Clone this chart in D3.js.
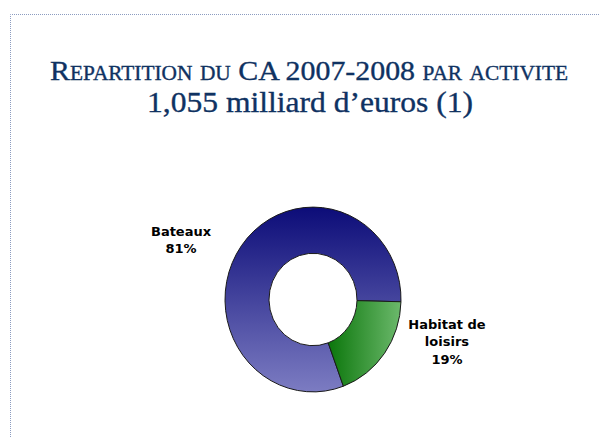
<!DOCTYPE html>
<html>
<head>
<meta charset="utf-8">
<script src="https://cdn.jsdelivr.net/npm/d3@7"></script>
<style>
  body { margin: 0; background: #fff; }
  svg { display: block; }
</style>
</head>
<body>
<div id="chart"></div>
<script>
// Turnover split by activity, 2007-2008, drawn as a donut.
const WIDTH = 600;
const HEIGHT = 437;

const titleLines = ["Repartition du CA 2007-2008 par activite", "1,055 milliard d\u2019euros (1)"];
const categories = ["Bateaux", "Habitat de loisirs"];
const labelLines = [["Bateaux"], ["Habitat de", "loisirs"]];
const shares = [81, 19];

const svg = d3.select("#chart")
    .append("svg")
    .attr("width", WIDTH)
    .attr("height", HEIGHT);

// Gradients: blue runs top to bottom, green runs left to right.
const defs = svg.append("defs");
const blue = defs.append("linearGradient")
    .attr("id", "grad-0")
    .attr("x1", 0).attr("y1", 0).attr("x2", 0).attr("y2", 1);
blue.append("stop").attr("offset", "0%").attr("stop-color", "#0c0c78");
blue.append("stop").attr("offset", "100%").attr("stop-color", "#7c7cc2");

const green = defs.append("linearGradient")
    .attr("id", "grad-1")
    .attr("x1", 0).attr("y1", 0).attr("x2", 1).attr("y2", 0);
green.append("stop").attr("offset", "0%").attr("stop-color", "#0b760b");
green.append("stop").attr("offset", "100%").attr("stop-color", "#6cb96c");

// Dotted frame of the slide placeholder.
svg.append("path")
    .attr("d", `M10.5,${HEIGHT} V14.5 H${WIDTH}`)
    .attr("fill", "none")
    .attr("stroke", "#8c9cc0")
    .attr("stroke-width", 1)
    .attr("stroke-dasharray", "1,1");

// Title block; the original face is wider and heavier than Times, so stretch it a little.
const titleFont = "'Liberation Serif', 'DejaVu Serif', serif";

svg.append("text")
    .attr("x", 309)
    .attr("y", 80)
    .attr("text-anchor", "middle")
    .attr("textLength", 518)
    .attr("lengthAdjust", "spacingAndGlyphs")
    .style("font-family", titleFont)
    .style("font-size", "28px")
    .style("font-variant", "small-caps")
    .attr("fill", "#0f3262")
    .attr("stroke", "#0f3262")
    .attr("stroke-width", 0.35)
    .text(titleLines[0]);

svg.append("text")
    .attr("x", 310)
    .attr("y", 112)
    .attr("text-anchor", "middle")
    .attr("textLength", 326)
    .attr("lengthAdjust", "spacingAndGlyphs")
    .style("font-family", titleFont)
    .style("font-size", "30px")
    .attr("fill", "#0f3262")
    .attr("stroke", "#0f3262")
    .attr("stroke-width", 0.35)
    .text(titleLines[1]);

// The donut is a touch taller than wide, as in the original.
const cx = 313, cy = 299.5;
const outer = 88, inner = 44;
const stretch = 1.05;

const start = 159.8 * Math.PI / 180;
const pie = d3.pie()
    .sort(null)
    .startAngle(start)
    .endAngle(start + 2 * Math.PI)
    .value(d => d);

const arcs = pie(shares);
const arc = d3.arc().innerRadius(inner).outerRadius(outer);

const donut = svg.append("g")
    .attr("transform", `translate(${cx}, ${cy}) scale(1, ${stretch})`);

donut.selectAll("path")
    .data(arcs)
    .join("path")
    .attr("d", arc)
    .attr("fill", (d, i) => `url(#grad-${i})`)
    .attr("stroke", "#1a1a1a")
    .attr("stroke-width", 1)
    .attr("vector-effect", "non-scaling-stroke");

// Labels sit outside the ring, rotated slightly back from each slice's middle.
const labelArc = d3.arc().innerRadius(143).outerRadius(143);
const labelShift = -14 * Math.PI / 180;
const labelSquash = 0.965;
const lineHeight = 17.5;

const labels = svg.append("g")
    .style("font-family", "'DejaVu Sans', Verdana, sans-serif")
    .style("font-size", "13px")
    .style("font-weight", "bold")
    .attr("fill", "#000");

arcs.forEach((d, i) => {
    const shifted = { startAngle: d.startAngle + labelShift, endAngle: d.endAngle + labelShift };
    const [lx, ly] = labelArc.centroid(shifted);
    const lines = labelLines[i].concat([`${shares[i]}%`]);
    const blockTop = cy + ly * labelSquash - 9 - (lines.length - 1) * lineHeight / 2;
    const t = labels.append("text")
        .attr("text-anchor", "middle")
        .attr("data-category", categories[i]);
    lines.forEach((line, j) => {
        t.append("tspan")
            .attr("x", cx + lx + 1)
            .attr("y", blockTop + 5 + j * lineHeight)
            .text(line);
    });
});
</script>
</body>
</html>
